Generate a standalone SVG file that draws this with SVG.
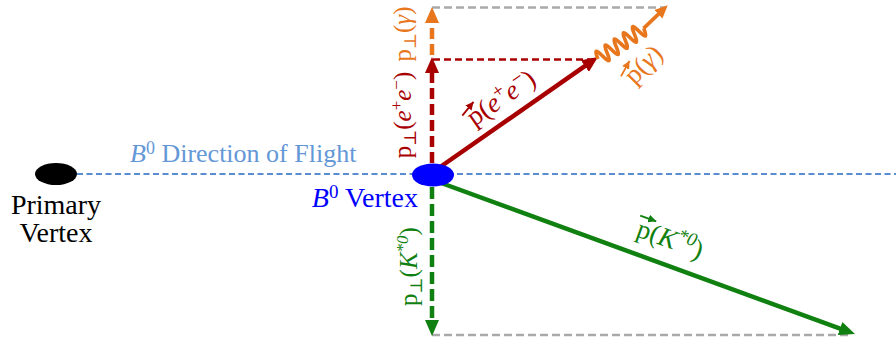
<svg xmlns="http://www.w3.org/2000/svg" width="896" height="340" viewBox="0 0 896 340">
<style>
text{font-family:"Liberation Serif","Times New Roman",Times,"DejaVu Serif",serif;}
.lbl{font-size:27px;}
.vl{font-size:25px;}
.it{font-style:italic;}
.red{fill:#a80000;}
.grn{fill:#108010;}
.org{fill:#e8761c;}
.blu{fill:#0000ff;}
.lblu{fill:#6497d6;}
.guide{stroke:#aaaaaa;stroke-width:2.5;stroke-dasharray:8 4;fill:none;}
</style>
<defs>
<marker id="ahRed" viewBox="0 0 16 14" refX="6" refY="7" markerWidth="16" markerHeight="14" markerUnits="userSpaceOnUse" orient="auto"><path d="M0,0 L16,7 L0,14 z" fill="#a80000"/></marker>
<marker id="ahGrn" viewBox="0 0 16 14" refX="6" refY="7" markerWidth="16" markerHeight="14" markerUnits="userSpaceOnUse" orient="auto"><path d="M0,0 L16,7 L0,14 z" fill="#108010"/></marker>
<marker id="ahOrg" viewBox="0 0 16 14" refX="6" refY="7" markerWidth="16" markerHeight="14" markerUnits="userSpaceOnUse" orient="auto"><path d="M0,0 L16,7 L0,14 z" fill="#e8761c"/></marker>
<marker id="ahOrgS" viewBox="0 0 13 12" refX="4" refY="6" markerWidth="13" markerHeight="12" markerUnits="userSpaceOnUse" orient="auto"><path d="M0,0 L13,6 L0,12 z" fill="#e8761c"/></marker>
<marker id="vecR" viewBox="0 0 8 8" refX="8" refY="4" markerWidth="8" markerHeight="8" markerUnits="userSpaceOnUse" orient="auto"><path d="M0,0 L8,4 L0,8 z" fill="#a80000"/></marker>
<marker id="vecG" viewBox="0 0 8 8" refX="8" refY="4" markerWidth="8" markerHeight="8" markerUnits="userSpaceOnUse" orient="auto"><path d="M0,0 L8,4 L0,8 z" fill="#108010"/></marker>
<marker id="vecO" viewBox="0 0 8 8" refX="8" refY="4" markerWidth="8" markerHeight="8" markerUnits="userSpaceOnUse" orient="auto"><path d="M0,0 L8,4 L0,8 z" fill="#e8761c"/></marker>
</defs>

<g id="connectors">
  <line x1="77" y1="174" x2="896" y2="174" stroke="#5b8cd0" stroke-width="2" stroke-dasharray="6 3.5"/>
  <line class="guide" x1="432" y1="7.5" x2="666" y2="7.5"/>
  <line class="guide" x1="432" y1="335" x2="852" y2="335"/>
  <line x1="433" y1="59.5" x2="598" y2="59.5" stroke="#a80000" stroke-width="2.5" stroke-dasharray="7 4"/>
  <line x1="432" y1="163" x2="432" y2="67" stroke="#a80000" stroke-width="4.5" stroke-dasharray="11 5" marker-end="url(#ahRed)"/>
  <line x1="432" y1="55" x2="432" y2="17" stroke="#e8761c" stroke-width="4.5" stroke-dasharray="11 5" marker-end="url(#ahOrg)"/>
  <line x1="432" y1="187" x2="432" y2="326" stroke="#108010" stroke-width="4.5" stroke-dasharray="12 5" marker-end="url(#ahGrn)"/>
  <line x1="433" y1="172" x2="589.8" y2="62.7" stroke="#a80000" stroke-width="4.5" marker-end="url(#ahRed)"/>
  <line x1="433" y1="180" x2="845.6" y2="330.6" stroke="#108010" stroke-width="4.5" marker-end="url(#ahGrn)"/>
  <path transform="translate(598,59) rotate(-34)" d="M0,0 q2.75,-15 5.5,0 q2.75,15 5.5,0 q2.75,-15 5.5,0 q2.75,15 5.5,0 q2.75,-15 5.5,0 q2.75,15 5.5,0 q2.75,-15 5.5,0 q2.75,15 5.5,0 q2.75,-15 5.5,0 q2.75,15 5.5,0" fill="none" stroke="#e8761c" stroke-width="3.6" stroke-linejoin="round"/>
  <line x1="643.6" y1="28.3" x2="661.2" y2="11.5" stroke="#e8761c" stroke-width="3.8" marker-end="url(#ahOrgS)"/>
</g>

<g id="primary-vertex">
  <ellipse cx="56" cy="174" rx="21" ry="11" fill="#000"/>
  <text x="56" y="214" font-size="28" text-anchor="middle" fill="#000">Primary</text>
  <text x="56" y="242" font-size="28" text-anchor="middle" fill="#000">Vertex</text>
</g>

<g id="flight-label">
  <text x="130" y="162" font-size="26" class="lblu"><tspan class="it">B</tspan><tspan font-size="18" dy="-8">0</tspan><tspan dy="8"> Direction of Flight</tspan></text>
</g>

<g id="b0-vertex">
  <ellipse cx="433" cy="175" rx="21" ry="11.5" fill="#0000ff"/>
  <text x="418" y="207" font-size="28" text-anchor="end" class="blu"><tspan class="it">B</tspan><tspan font-size="19" dy="-9">0</tspan><tspan dy="9"> Vertex</tspan></text>
</g>

<g id="label-pt-gamma" transform="translate(411,34) rotate(-90)">
  <text class="vl org" text-anchor="middle">p<tspan font-size="17" dy="5">⊥</tspan><tspan dy="-5">(</tspan><tspan class="it">γ</tspan>)</text>
</g>

<g id="label-pt-ee" transform="translate(411,115) rotate(-90)">
  <text class="vl red" text-anchor="middle">p<tspan font-size="17" dy="5">⊥</tspan><tspan dy="-5">(</tspan><tspan class="it">e</tspan><tspan font-size="17" dy="-9">+</tspan><tspan class="it" dy="9">e</tspan><tspan font-size="17" dy="-9">−</tspan><tspan dy="9">)</tspan></text>
</g>

<g id="label-pt-k" transform="translate(417,266.5) rotate(-90)">
  <text class="vl grn" text-anchor="middle">p<tspan font-size="17" dy="5">⊥</tspan><tspan dy="-5">(</tspan><tspan class="it">K</tspan><tspan class="it" font-size="17" dy="-9">*0</tspan><tspan dy="9">)</tspan></text>
</g>

<g id="label-p-ee" transform="translate(506,105) rotate(-34.5)">
  <text class="lbl red" x="-38.5">p(<tspan class="it">e</tspan><tspan font-size="19" dy="-10">+</tspan><tspan class="it" dy="10">e</tspan><tspan font-size="19" dy="-10">−</tspan><tspan dy="10">)</tspan></text>
  <line x1="-42" y1="-16" x2="-25" y2="-21" stroke="#a80000" stroke-width="1.8" marker-end="url(#vecR)"/>
</g>

<g id="label-p-gamma" transform="translate(650,70) rotate(-45)">
  <text class="lbl org" x="-22">p(<tspan class="it">γ</tspan>)</text>
  <line x1="-25" y1="-16" x2="-8" y2="-21" stroke="#e8761c" stroke-width="1.8" marker-end="url(#vecO)"/>
</g>

<g id="label-p-k" transform="translate(667,247.5) rotate(19.8)">
  <text class="lbl grn" x="-34">p(<tspan class="it">K</tspan><tspan class="it" font-size="19" dy="-10">*0</tspan><tspan dy="10">)</tspan></text>
  <line x1="-36" y1="-21" x2="-19" y2="-21" stroke="#108010" stroke-width="1.8" marker-end="url(#vecG)"/>
</g>
</svg>
